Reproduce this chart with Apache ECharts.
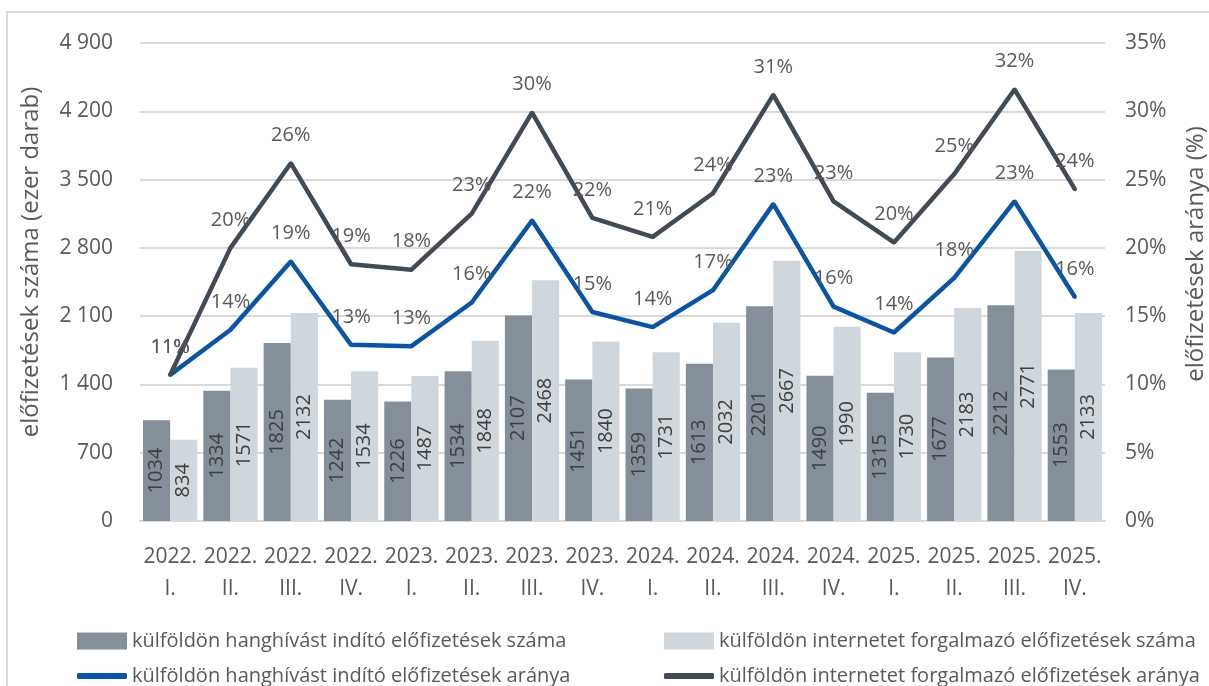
<!DOCTYPE html>
<html>
<head>
<meta charset="utf-8">
<title>Külföldi előfizetések</title>
<script src="https://cdn.jsdelivr.net/npm/echarts@6/dist/echarts.min.js"></script>
<style>
  html, body { margin: 0; padding: 0; background: #fff; }
  #main { width: 1209px; height: 686px; }
</style>
</head>
<body>
<div id="main"></div>
<script>
// negyedévek
var quarters = ['2022.\nI.', '2022.\nII.', '2022.\nIII.', '2022.\nIV.',
                '2023.\nI.', '2023.\nII.', '2023.\nIII.', '2023.\nIV.',
                '2024.\nI.', '2024.\nII.', '2024.\nIII.', '2024.\nIV.',
                '2025.\nI.', '2025.\nII.', '2025.\nIII.', '2025.\nIV.'];

// előfizetések száma (ezer darab)
var voiceCount = [1034, 1334, 1825, 1242, 1226, 1534, 2107, 1451, 1359, 1613, 2201, 1490, 1315, 1677, 2212, 1553];
var dataCount  = [834, 1571, 2132, 1534, 1487, 1848, 2468, 1840, 1731, 2032, 2667, 1990, 1730, 2183, 2771, 2133];

// arányok (%)
var voiceShare = [10.7, 14.0, 19.0, 12.9, 12.8, 16.0, 22.0, 15.3, 14.2, 16.9, 23.2, 15.7, 13.8, 17.8, 23.4, 16.4];
var dataShare  = [10.7, 20.0, 26.2, 18.8, 18.4, 22.5, 29.9, 22.2, 20.8, 24.0, 31.2, 23.4, 20.4, 25.4, 31.6, 24.3];

var names = ['külföldön hanghívást indító előfizetések száma',
             'külföldön internetet forgalmazó előfizetések száma',
             'külföldön hanghívást indító előfizetések aránya',
             'külföldön internetet forgalmazó előfizetések aránya'];

var FONT = 'Open Sans';
var GRAY = '#595959';

var myChart = echarts.init(document.getElementById('main'));

function legendItem(name, left, top, isLine) {
    return {
        data: [name],
        left: left,
        top: top,
        itemWidth: 50,
        itemHeight: isLine ? 6 : 17,
        icon: isLine ? 'roundRect' : 'rect',
        selectedMode: false,
        textStyle: { fontFamily: FONT, fontSize: 20, color: GRAY }
    };
}

function pctLabel() {
    return {
        show: true,
        position: 'top',
        distance: 16,
        fontFamily: FONT,
        fontSize: 20,
        color: GRAY,
        formatter: function (p) { return Math.round(p.value) + '%'; }
    };
}

var option = {
    animation: false,
    textStyle: { fontFamily: FONT },
    graphic: [
        {
            type: 'rect',
            shape: { x: 7, y: 12, width: 1400, height: 900 },
            style: { fill: 'none', stroke: '#d9d9d9', lineWidth: 2 },
            silent: true
        },
        {
            type: 'text',
            x: 31, y: 262,
            rotation: Math.PI / 2,
            style: {
                text: 'előfizetések száma (ezer darab)',
                fontFamily: FONT, fontSize: 24, fill: GRAY,
                align: 'center', verticalAlign: 'middle'
            }
        },
        {
            type: 'text',
            x: 1196, y: 254,
            rotation: Math.PI / 2,
            style: {
                text: 'előfizetések aránya (%)',
                fontFamily: FONT, fontSize: 24, fill: GRAY,
                align: 'center', verticalAlign: 'middle'
            }
        }
    ],
    legend: [
        legendItem(names[0], 72, 626, false),
        legendItem(names[1], 659, 626, false),
        legendItem(names[2], 72, 661, true),
        legendItem(names[3], 659, 661, true)
    ],
    grid: {
        left: 140,
        right: 104,
        top: 43,
        bottom: 165
    },
    xAxis: [{
        type: 'category',
        data: quarters,
        axisLine: { lineStyle: { color: '#d9d9d9', width: 2 } },
        axisTick: { show: false },
        axisLabel: {
            interval: 0,
            margin: 20,
            lineHeight: 32,
            fontFamily: FONT,
            fontSize: 21,
            color: GRAY
        }
    }],
    yAxis: [{
        type: 'value',
        min: 0,
        max: 4900,
        interval: 700,
        axisLine: { show: false },
        axisTick: { show: false },
        splitLine: { lineStyle: { color: '#d9d9d9', width: 2 } },
        axisLabel: {
            margin: 27,
            fontFamily: FONT,
            fontSize: 21,
            color: GRAY,
            formatter: function (v) {
                return String(v).replace(/\B(?=(\d{3})+(?!\d))/g, ' ');
            }
        }
    }, {
        type: 'value',
        min: 0,
        max: 35,
        interval: 5,
        axisLine: { show: false },
        axisTick: { show: false },
        splitLine: { show: false },
        axisLabel: {
            margin: 20,
            fontFamily: FONT,
            fontSize: 21,
            color: GRAY,
            formatter: '{value}%'
        }
    }],
    series: [{
        name: names[0],
        type: 'bar',
        data: voiceCount,
        barGap: '0%',
        barCategoryGap: '10%',
        itemStyle: { color: '#848f9a' },
        label: {
            show: true,
            position: 'inside',
            rotate: 90,
            fontFamily: FONT,
            fontSize: 20,
            color: '#404040'
        }
    }, {
        name: names[1],
        type: 'bar',
        data: dataCount,
        itemStyle: { color: '#cfd6dc' },
        label: {
            show: true,
            position: 'inside',
            rotate: 90,
            fontFamily: FONT,
            fontSize: 20,
            color: '#404040'
        }
    }, {
        name: names[2],
        type: 'line',
        yAxisIndex: 1,
        data: voiceShare,
        symbol: 'circle',
        symbolSize: 4,
        lineStyle: { color: '#0b54a2', width: 4.5 },
        itemStyle: { color: '#0b54a2' },
        label: pctLabel(),
        z: 3
    }, {
        name: names[3],
        type: 'line',
        yAxisIndex: 1,
        data: dataShare,
        symbol: 'circle',
        symbolSize: 4,
        lineStyle: { color: '#404b55', width: 4.5 },
        itemStyle: { color: '#404b55' },
        label: pctLabel(),
        z: 3
    }]
};

myChart.setOption(option);
</script>
</body>
</html>
